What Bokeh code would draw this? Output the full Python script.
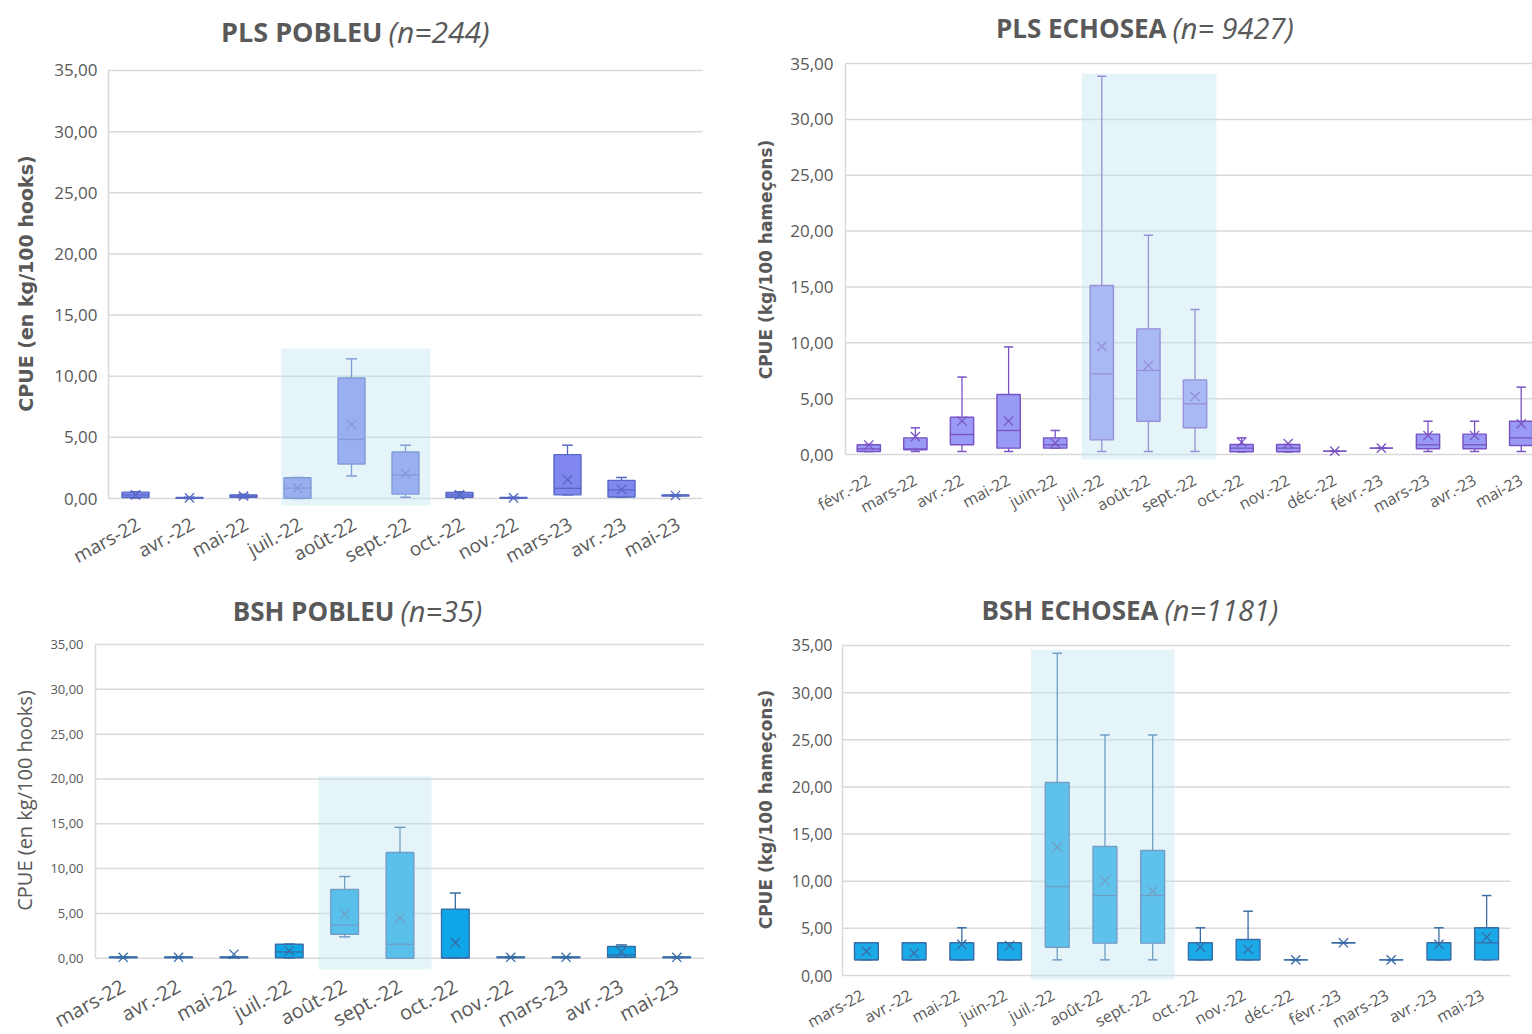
import math
from bokeh.plotting import figure
from bokeh.layouts import column, row
from bokeh.embed import file_html
from bokeh.resources import INLINE
from bokeh.core.properties import value

# ---------------- data ----------------
Y_TICKS = [0, 5, 10, 15, 20, 25, 30, 35]
Y_TICK_LABELS = ["0,00", "5,00", "10,00", "15,00", "20,00", "25,00", "30,00", "35,00"]

# PLS POBLEU (n=244)
pls_pob_months = ["mars-22", "avr.-22", "mai-22", "juil.-22", "août-22", "sept.-22",
                  "oct.-22", "nov.-22", "mars-23", "avr.-23", "mai-23"]
pls_pob_min = [0.05, 0.00, 0.05, 0.00, 1.84, 0.10, 0.05, 0.00, 0.30, 0.12, 0.20]
pls_pob_q1 = [0.08, 0.02, 0.10, 0.02, 2.82, 0.36, 0.10, 0.02, 0.30, 0.12, 0.20]
pls_pob_med = [0.30, 0.05, 0.20, 0.85, 4.83, 1.93, 0.30, 0.05, 0.83, 0.71, 0.25]
pls_pob_q3 = [0.52, 0.08, 0.30, 1.70, 9.85, 3.80, 0.50, 0.08, 3.59, 1.48, 0.30]
pls_pob_max = [0.55, 0.10, 0.35, 1.72, 11.42, 4.36, 0.55, 0.10, 4.36, 1.72, 0.30]
pls_pob_mean = [0.30, 0.05, 0.20, 0.85, 6.05, 2.02, 0.30, 0.05, 1.54, 0.74, 0.25]

# PLS ECHOSEA (n=9427)
pls_echo_months = ["févr.-22", "mars-22", "avr.-22", "mai-22", "juin-22", "juil.-22",
                   "août-22", "sept.-22", "oct.-22", "nov.-22", "déc.-22", "févr.-23",
                   "mars-23", "avr.-23", "mai-23"]
pls_echo_min = [0.26, 0.27, 0.27, 0.27, 0.57, 0.27, 0.27, 0.27, 0.24, 0.24, 0.30, 0.57, 0.27, 0.27, 0.27]
pls_echo_q1 = [0.27, 0.42, 0.87, 0.57, 0.57, 1.31, 2.98, 2.39, 0.24, 0.24, 0.30, 0.57, 0.51, 0.51, 0.81]
pls_echo_med = [0.50, 0.50, 1.79, 2.15, 0.87, 7.22, 7.52, 4.54, 0.57, 0.57, 0.30, 0.57, 0.87, 0.87, 1.49]
pls_echo_q3 = [0.87, 1.49, 3.34, 5.37, 1.49, 15.13, 11.25, 6.68, 0.90, 0.90, 0.30, 0.57, 1.82, 1.82, 2.98]
pls_echo_max = [0.90, 2.39, 6.93, 9.63, 2.15, 33.86, 19.62, 12.98, 1.49, 0.90, 0.30, 0.57, 2.98, 2.98, 6.03]
pls_echo_mean = [0.85, 1.60, 3.00, 3.00, 1.01, 9.67, 7.97, 5.19, 1.10, 0.98, 0.30, 0.57, 1.70, 1.70, 2.75]

# BSH POBLEU (n=35)
bsh_pob_months = ["mars-22", "avr.-22", "mai-22", "juil.-22", "août-22", "sept.-22",
                  "oct.-22", "nov.-22", "mars-23", "avr.-23", "mai-23"]
bsh_pob_min = [0.05, 0.05, 0.05, 0.03, 2.38, 0.00, 0.00, 0.05, 0.05, 0.10, 0.05]
bsh_pob_q1 = [0.05, 0.05, 0.05, 0.05, 2.68, 0.00, 0.02, 0.05, 0.05, 0.10, 0.05]
bsh_pob_med = [0.10, 0.10, 0.10, 0.70, 3.68, 1.56, 0.05, 0.10, 0.10, 0.38, 0.10]
bsh_pob_q3 = [0.15, 0.15, 0.15, 1.56, 7.66, 11.80, 5.48, 0.15, 0.15, 1.30, 0.15]
bsh_pob_max = [0.15, 0.15, 0.15, 1.58, 9.11, 14.60, 7.27, 0.15, 0.15, 1.48, 0.15]
bsh_pob_mean = [0.10, 0.10, 0.44, 0.81, 4.91, 4.46, 1.74, 0.10, 0.10, 0.70, 0.10]

# BSH ECHOSEA (n=1181)
bsh_echo_months = ["mars-22", "avr.-22", "mai-22", "juin-22", "juil.-22", "août-22",
                   "sept.-22", "oct.-22", "nov.-22", "déc.-22", "févr.-23", "mars-23",
                   "avr.-23", "mai-23"]
bsh_echo_min = [1.66, 1.66, 1.66, 1.66, 1.66, 1.66, 1.66, 1.66, 1.66, 1.66, 3.47, 1.66, 1.66, 1.66]
bsh_echo_q1 = [1.66, 1.66, 1.66, 1.66, 3.00, 3.43, 3.43, 1.66, 1.66, 1.66, 3.47, 1.66, 1.66, 1.66]
bsh_echo_med = [1.66, 1.66, 1.66, 1.66, 9.44, 8.48, 8.48, 1.66, 1.66, 1.66, 3.47, 1.66, 1.66, 3.47]
bsh_echo_q3 = [3.47, 3.47, 3.47, 3.47, 20.47, 13.68, 13.26, 3.47, 3.82, 1.66, 3.47, 1.66, 3.47, 5.06]
bsh_echo_max = [3.47, 3.47, 5.06, 3.47, 34.18, 25.52, 25.52, 5.06, 6.82, 1.66, 3.47, 1.66, 5.06, 8.48]
bsh_echo_mean = [2.58, 2.37, 3.30, 3.18, 13.61, 10.05, 8.94, 3.00, 2.76, 1.66, 3.47, 1.66, 3.30, 4.06]

TEXT = "#595959"
GRID = "#D9D9D9"
HL_COLOR = "#BEE4F0"
HL_ALPHA = 0.42


def make_panel(months, vmin, q1, med, q3, vmax, mean, title_b, title_i,
               ylabel, ylabel_bold, g, fill, line, fs, hl):
    n = len(months)
    xs = list(range(n))
    S, C0, U, Y0 = g["S"], g["C0"], g["U"], g["Y0"]
    ox, oy, W, H = g["ox"], g["oy"], g["W"], g["H"]

    def dx(px):  # page x -> data x
        return (px - C0) / S

    def dy(py):  # page y -> data y
        return (Y0 - py) / U

    p = figure(width=W, height=H, output_backend="svg", toolbar_location=None,
               x_range=(dx(ox), dx(ox + W)), y_range=(dy(oy + H), dy(oy)),
               min_border=0, min_border_left=0, min_border_right=0,
               min_border_top=0, min_border_bottom=0,
               outline_line_color=None, background_fill_color="white",
               border_fill_color="white", x_axis_location=None, y_axis_location=None)
    p.grid.visible = False

    # horizontal gridlines and value axis line
    xa, xb = dx(g["FL"]), dx(g["GR"])
    p.segment(x0=[xa] * len(Y_TICKS), y0=Y_TICKS, x1=[xb] * len(Y_TICKS), y1=Y_TICKS,
              line_color=GRID, line_width=1.5)
    p.segment(x0=[xa], y0=[Y_TICKS[0]], x1=[xa], y1=[Y_TICKS[-1]],
              line_color=GRID, line_width=1.5)
    # value tick labels
    p.text(x=[dx(g["FL"] - g["yts"])] * len(Y_TICKS), y=Y_TICKS, text=Y_TICK_LABELS,
           text_align="right", text_baseline="middle", text_font=value("Open Sans"),
           text_font_size=f"{fs['yt']}px", text_color=TEXT)
    # value axis title
    p.text(x=[dx(g["ylx"])], y=[dy(g["yly"])], text=[ylabel], angle=math.pi / 2,
           text_align="center", text_baseline="middle",
           text_font=value("DejaVu Sans" if ylabel_bold else "Open Sans"),
           text_font_style="bold" if ylabel_bold else "normal",
           text_font_size=f"{fs['yl']}px", text_color=TEXT)
    # month labels (rotated)
    p.text(x=[x + g["lab_dx"] / S for x in xs], y=[dy(g["lab_y"])] * n, text=months,
           angle=0.5, text_align="right", text_baseline="middle",
           text_font=value("Open Sans"), text_font_size=f"{fs['xt']}px", text_color=TEXT)

    bw = 0.5
    cw = 0.2
    # whiskers
    p.segment(x0=xs, y0=q3, x1=xs, y1=vmax, line_color=line, line_width=1.3)
    p.segment(x0=xs, y0=vmin, x1=xs, y1=q1, line_color=line, line_width=1.3)
    p.segment(x0=[x - cw / 2 for x in xs], y0=vmax, x1=[x + cw / 2 for x in xs], y1=vmax,
              line_color=line, line_width=1.5)
    p.segment(x0=[x - cw / 2 for x in xs], y0=vmin, x1=[x + cw / 2 for x in xs], y1=vmin,
              line_color=line, line_width=1.5)
    # boxes
    p.vbar(x=xs, bottom=q1, top=q3, width=bw, fill_color=fill, line_color=line, line_width=1.4)
    # median
    p.segment(x0=[x - bw / 2 for x in xs], y0=med, x1=[x + bw / 2 for x in xs], y1=med,
              line_color=line, line_width=1.3)
    # mean
    p.scatter(x=xs, y=mean, marker="x", size=13, line_color=line, line_width=1.3)

    # highlight overlay (Jul-Sep)
    p.quad(left=[hl[0]], right=[hl[1]], bottom=[hl[2]], top=[hl[3]],
           fill_color=HL_COLOR, fill_alpha=HL_ALPHA, line_color=None)

    # title: bold part + italic part
    p.text(x=[dx(g["tsplit"] - 3)], y=[dy(g["ty"])], text=[title_b], text_align="right",
           text_baseline="middle", text_font=value("Open Sans"),
           text_font_style="bold", text_font_size=f"{fs['title']}px", text_color=TEXT)
    p.text(x=[dx(g["tsplit"] + 3)], y=[dy(g["ty"])], text=[title_i], text_align="left",
           text_baseline="middle", text_font=value("Open Sans"),
           text_font_style="italic", text_font_size=f"{round(fs['title'] * 1.1)}px",
           text_color=TEXT)
    return p


g1 = dict(ox=0, oy=0, W=740, H=580, FL=108, GR=702, C0=135, S=54,
          Y0=498, U=12.229, yts=11, ylx=25, yly=283, tsplit=385, ty=31, lab_y=522, lab_dx=3)
g2 = dict(ox=740, oy=0, W=792, H=580, FL=845, GR=1532, C0=868.3, S=46.6,
          Y0=454, U=11.17, yts=12, ylx=765, yly=259, tsplit=1169, ty=27, lab_y=478, lab_dx=0)
g3 = dict(ox=0, oy=580, W=740, H=454, FL=95, GR=704, C0=122.7, S=55.36,
          Y0=957.7, U=8.963, yts=12, ylx=24, yly=800, tsplit=397, ty=610, lab_y=984, lab_dx=0)
g4 = dict(ox=740, oy=580, W=792, H=454, FL=842, GR=1510, C0=865.9, S=47.71,
          Y0=975, U=9.4286, yts=10, ylx=765, yly=809, tsplit=1161, ty=609, lab_y=993, lab_dx=-4)

p1 = make_panel(pls_pob_months, pls_pob_min, pls_pob_q1, pls_pob_med, pls_pob_q3,
                pls_pob_max, pls_pob_mean, "PLS POBLEU", "(n=244)",
                "CPUE (en kg/100 hooks)", True, g1, "#8088F0", "#5668C4",
                dict(yt=17, yl=19, xt=19, title=27), (2.70, 5.46, -0.57, 12.26))
p2 = make_panel(pls_echo_months, pls_echo_min, pls_echo_q1, pls_echo_med, pls_echo_q3,
                pls_echo_max, pls_echo_mean, "PLS ECHOSEA", "(n= 9427)",
                "CPUE (kg/100 hameçons)", True, g2, "#989AF6", "#7A52C4",
                dict(yt=17, yl=17, xt=16, title=26), (4.57, 7.46, -0.45, 34.1))
p3 = make_panel(bsh_pob_months, bsh_pob_min, bsh_pob_q1, bsh_pob_med, bsh_pob_q3,
                bsh_pob_max, bsh_pob_mean, "BSH POBLEU", "(n=35)",
                "CPUE (en kg/100 hooks)", False, g3, "#0EA6E6", "#3A6CA6",
                dict(yt=13, yl=20, xt=20, title=26), (3.53, 5.57, -1.26, 20.26))
p4 = make_panel(bsh_echo_months, bsh_echo_min, bsh_echo_q1, bsh_echo_med, bsh_echo_q3,
                bsh_echo_max, bsh_echo_mean, "BSH ECHOSEA", "(n=1181)",
                "CPUE (kg/100 hameçons)", True, g4, "#1AAAE8", "#3A6CA6",
                dict(yt=16, yl=17, xt=16, title=26), (3.45, 6.46, -0.42, 34.57))

layout = column(row(p1, p2, spacing=0), row(p3, p4, spacing=0), spacing=0)
open("out.html", "w").write(file_html(layout, INLINE))
